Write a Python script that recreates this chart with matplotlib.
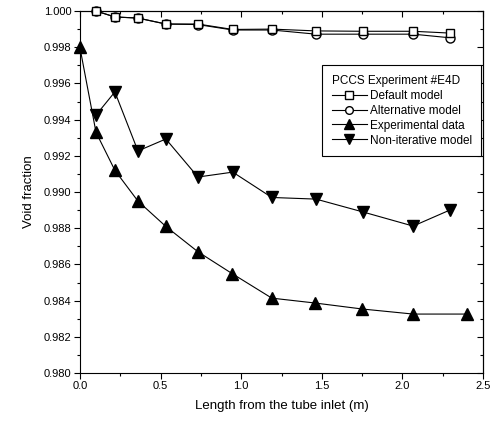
import numpy as np
import matplotlib
matplotlib.use('Agg')
import matplotlib.pyplot as plt
from matplotlib.ticker import MultipleLocator

plt.rcParams['font.family'] = ['Liberation Sans', 'DejaVu Sans']

# data
x_exp = [0.0, 0.10, 0.217, 0.36, 0.533, 0.732, 0.943, 1.19, 1.458, 1.75, 2.066, 2.40]
y_exp = [0.9980, 0.9933, 0.9912, 0.9895, 0.9881, 0.9867, 0.9855, 0.98414, 0.98387, 0.98354, 0.98326, 0.98326]

x_mod = [0.10, 0.217, 0.36, 0.533, 0.732, 0.948, 1.19, 1.464, 1.755, 2.066, 2.295]
y_default = [1.0000, 0.99967, 0.99961, 0.99928, 0.99928, 0.99898, 0.99900, 0.99890, 0.99888, 0.99888, 0.99878]
y_altern = [1.0000, 0.99967, 0.99961, 0.99928, 0.99925, 0.99895, 0.99895, 0.99872, 0.99872, 0.99872, 0.99852]
y_noniter = [0.99425, 0.99553, 0.99227, 0.99293, 0.99083, 0.99110, 0.98970, 0.98961, 0.98890, 0.98812, 0.98901]

fig = plt.figure(figsize=(4.9, 4.23), dpi=100)
ax = fig.add_axes([0.163, 0.118, 0.823, 0.856])

lw = 0.8
ax.plot(x_mod, y_default, '-', color='black', lw=lw, marker='s', ms=6,
        mfc='white', mec='black', mew=1.0, label='Default model', clip_on=False, zorder=4)
ax.plot(x_mod, y_altern, '-', color='black', lw=lw, marker='o', ms=6.5,
        mfc='white', mec='black', mew=1.0, label='Alternative model', clip_on=False, zorder=3)
ax.plot(x_exp, y_exp, '-', color='black', lw=lw, marker='^', ms=8,
        mfc='black', mec='black', label='Experimental data', clip_on=False, zorder=3)
ax.plot(x_mod, y_noniter, '-', color='black', lw=lw, marker='v', ms=8,
        mfc='black', mec='black', label='Non-iterative model', clip_on=False, zorder=3)

ax.set_xlim(0, 2.5)
ax.set_ylim(0.980, 1.000)
ax.xaxis.set_major_locator(MultipleLocator(0.5))
ax.xaxis.set_minor_locator(MultipleLocator(0.25))
ax.yaxis.set_major_locator(MultipleLocator(0.002))
ax.yaxis.set_minor_locator(MultipleLocator(0.001))
ax.xaxis.set_major_formatter(matplotlib.ticker.FormatStrFormatter('%.1f'))
ax.yaxis.set_major_formatter(matplotlib.ticker.FormatStrFormatter('%.3f'))
ax.tick_params(which='major', direction='out', length=4, width=0.8, labelsize=8, pad=2)
ax.tick_params(which='minor', direction='out', length=2, width=0.8)
for s in ax.spines.values():
    s.set_linewidth(0.8)

# top and right ticks point inward
secx = ax.secondary_xaxis('top')
secx.xaxis.set_major_locator(MultipleLocator(0.5))
secx.xaxis.set_minor_locator(MultipleLocator(0.25))
secx.tick_params(which='major', direction='in', length=4, width=0.8, labeltop=False)
secx.tick_params(which='minor', direction='in', length=2, width=0.8)
secy = ax.secondary_yaxis('right')
secy.yaxis.set_major_locator(MultipleLocator(0.002))
secy.yaxis.set_minor_locator(MultipleLocator(0.001))
secy.tick_params(which='major', direction='in', length=4, width=0.8, labelright=False)
secy.tick_params(which='minor', direction='in', length=2, width=0.8)

ax.set_xlabel('Length from the tube inlet (m)', fontsize=9.5, labelpad=6)
ax.set_ylabel('Void fraction', fontsize=9.5, labelpad=6)

leg = ax.legend(title='PCCS Experiment #E4D', loc='upper right',
                bbox_to_anchor=(0.995, 0.85), borderaxespad=0, fontsize=8.5,
                title_fontsize=8.5, fancybox=False, framealpha=1,
                edgecolor='black', handlelength=3.0, handletextpad=0.2,
                labelspacing=0.25, borderpad=0.8, markerscale=0.85)
leg.get_frame().set_linewidth(0.8)
leg._legend_box.align = 'left'

fig.savefig('out.png', dpi=100)
